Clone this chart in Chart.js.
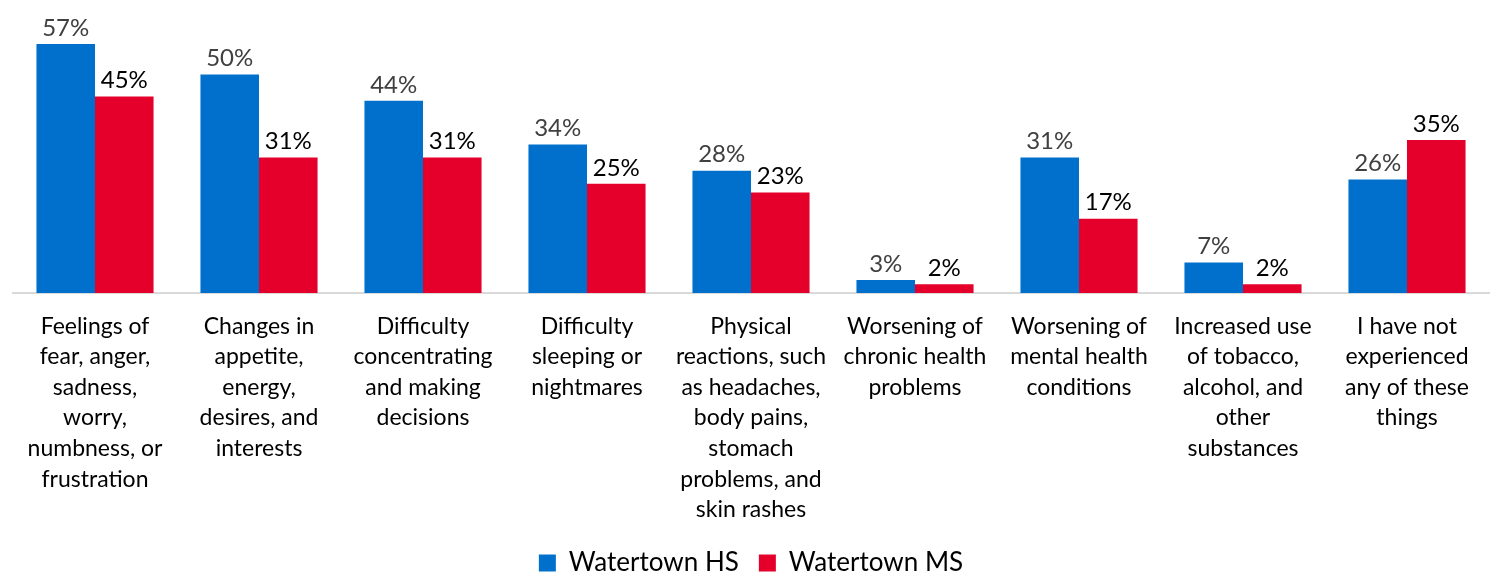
<!DOCTYPE html>
<html>
<head>
<meta charset="utf-8">
<script src="https://cdn.jsdelivr.net/npm/chart.js@4/dist/chart.umd.min.js"></script>
<style>
  html, body { margin: 0; padding: 0; background: #fff; }
  #wrap { width: 1496px; height: 576px; }
</style>
</head>
<body>
<div id="wrap"><canvas id="chart" width="1496" height="576"></canvas></div>
<script>
const categories = [
  ["Feelings of", "fear, anger,", "sadness,", "worry,", "numbness, or", "frustration"],
  ["Changes in", "appetite,", "energy,", "desires, and", "interests"],
  ["Difficulty", "concentrating", "and making", "decisions"],
  ["Difficulty", "sleeping or", "nightmares"],
  ["Physical", "reactions, such", "as headaches,", "body pains,", "stomach", "problems, and", "skin rashes"],
  ["Worsening of", "chronic health", "problems"],
  ["Worsening of", "mental health", "conditions"],
  ["Increased use", "of tobacco,", "alcohol, and", "other", "substances"],
  ["I have not", "experienced", "any of these", "things"]
];
const hsValues = [57, 50, 44, 34, 28, 3, 31, 7, 26];
const msValues = [45, 31, 31, 25, 23, 2, 17, 2, 35];
const seriesNames = ["Watertown HS", "Watertown MS"];

const FONT = "Lato, 'Open Sans', sans-serif";

// draws the percentage above each bar
const barLabels = {
  id: "barLabels",
  afterDatasetsDraw(chart) {
    const ctx = chart.ctx;
    ctx.save();
    ctx.font = "24px " + FONT;
    ctx.textAlign = "center";
    ctx.textBaseline = "bottom";
    chart.data.datasets.forEach((ds, i) => {
      const meta = chart.getDatasetMeta(i);
      ctx.fillStyle = i === 0 ? "#404040" : "#000000";
      meta.data.forEach((bar, j) => {
        ctx.fillText(ds.data[j] + "%", bar.x, bar.y - 4);
      });
    });
    ctx.restore();
  }
};

new Chart(document.getElementById("chart"), {
  type: "bar",
  data: {
    labels: categories,
    datasets: [
      { label: seriesNames[0], data: hsValues, backgroundColor: "#0070CC" },
      { label: seriesNames[1], data: msValues, backgroundColor: "#E4002B" }
    ]
  },
  options: {
    responsive: false,
    animation: false,
    layout: { padding: { left: 13, right: 7, top: 44, bottom: -10 } },
    datasets: { bar: { categoryPercentage: 0.714, barPercentage: 1.0 } },
    scales: {
      x: {
        grid: { display: false },
        border: { display: true, color: "#d9d9d9", width: 2 },
        ticks: {
          color: "#000",
          font: { family: FONT, size: 23, lineHeight: 1.33 },
          maxRotation: 0,
          autoSkip: false,
          padding: 10
        },
        afterFit(scale) { scale.height = 237; }
      },
      y: {
        display: false,
        min: 0,
        max: 57
      }
    },
    plugins: {
      legend: {
        position: "bottom",
        labels: {
          color: "#000",
          font: { family: FONT, size: 26, lineHeight: 0.8 },
          boxWidth: 17,
          boxHeight: 17,
          padding: 20
        }
      },
      tooltip: { enabled: false }
    }
  },
  plugins: [barLabels]
});
</script>
</body>
</html>
